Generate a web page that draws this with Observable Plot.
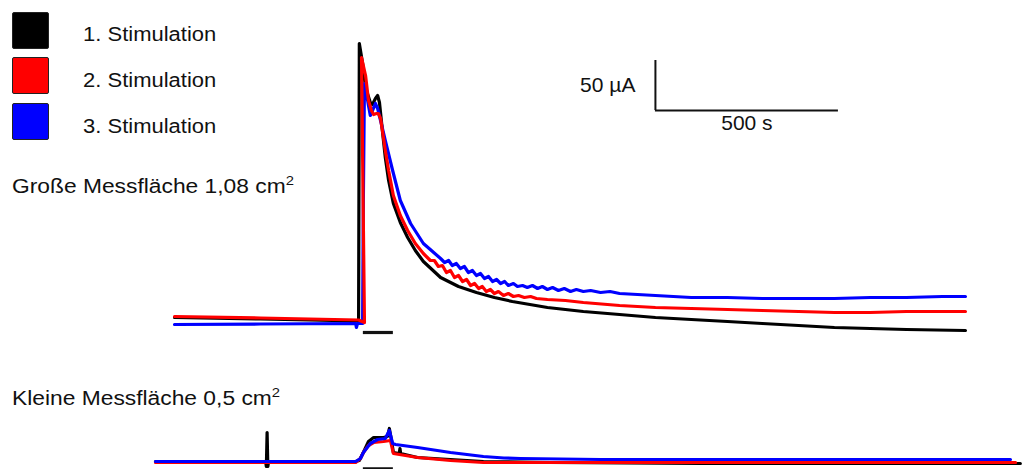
<!DOCTYPE html>
<html>
<head>
<meta charset="utf-8">
<script src="https://cdn.jsdelivr.net/npm/d3@7"></script>
<script src="https://cdn.jsdelivr.net/npm/@observablehq/plot@0.6"></script>
<style>
  html, body { margin: 0; padding: 0; background: #fff; }
  #wrap { position: relative; width: 1022px; height: 469px; overflow: hidden; font-family: "Liberation Sans", Arial, sans-serif; color: #111; }
  .abs { position: absolute; }
  .lbl { font-size: 20px; line-height: 20px; white-space: nowrap; transform: scaleX(1.1); transform-origin: left center; }
  .plbl { transform: scaleX(1.14); }
  .sw { position: absolute; width: 35px; height: 35px; border: 1.5px solid #222; border-radius: 2px; }
  sup { font-size: 13px; line-height: 0; vertical-align: 8px; }
</style>
</head>
<body>
<div id="wrap"></div>
<script>
// ---- Legend ----
const seriesNames = ["1. Stimulation", "2. Stimulation", "3. Stimulation"];
const seriesColors = ["#000000", "#ff0000", "#0000ff"];

// ---- Panel labels ----
const panelLabels = ["Große Messfläche 1,08 cm", "Kleine Messfläche 0,5 cm"];
const panelSup = "2";

// ---- Large electrode (time s, current µA) ----
const bigBlack = [
  [0,5],[235,3.5],[497,1.5],[503,1],[505,279],[514,259],[522,235],[535,220],[541,218],[549,224],[555,227],[560,220],
  [568,192],[576,165],[585,142],[598,119],[617,100],[637,85],[658,72],[680,61],[727,45],[776,36],[825,30],[874,25],
  [923,21],[1019,15],[1117,11],[1216,8],[1314,5],[1412,3],[1511,1],[1606,-1],[1705,-3],[1803,-5],[1901,-6],[2000,-7],[2161,-8]
];
const bigRed = [
  [0,6],[235,4.5],[503,2.5],[519,0],[511,265],[522,247],[530,222],[538,212],[544,208],[552,209],[557,209],[563,204],
  [568,192],[576,172],[585,152],[598,127],[617,107],[637,92],[658,79],[680,69],[699,62],[710,62],[721,56],[732,57],
  [743,50],[754,52],[765,45],[776,47],[787,41],[798,43],[809,37],[820,39],[831,34],[841,36],[852,31],[863,33],[874,29],
  [885,31],[899,27],[912,29],[926,26],[940,27],[956,25],[973,26],[989,24],[1019,23],[1068,22],[1117,20],[1216,17],
  [1314,15],[1412,14],[1511,13],[1606,12],[1705,11],[1803,10],[1901,10],[2000,11],[2161,11]
];
const bigBlue = [
  [0,-2],[235,-1.5],[495,-1],[497,-5],[500,-1],[514,-1],[516,122],[519,239],[522,235],[530,217],[535,207],[541,212],
  [549,219],[555,214],[563,202],[576,182],[596,152],[617,122],[645,99],[680,79],[727,64],[738,60],[749,62],[759,57],
  [770,59],[781,54],[792,56],[803,50],[814,52],[825,47],[836,49],[847,44],[858,46],[869,41],[880,43],[891,39],[902,41],
  [912,37],[926,39],[937,36],[951,37],[964,35],[978,37],[992,34],[1005,36],[1019,33],[1033,35],[1049,32],[1065,34],
  [1082,31],[1098,33],[1117,31],[1137,32],[1164,30],[1190,31],[1216,29],[1314,27],[1412,25],[1511,25],[1606,24],[1705,24],
  [1803,24],[1901,25],[2000,25],[2098,26],[2161,26]
];

// ---- Small electrode (time s, current µA) ----
const smallBlack = [
  [-52,0],[249,0],[251,-5],[253,29],[255,-5],[257,0],[495,0],[505,1],[516,9],[530,20],[544,24],[571,24],[582,25],
  [587,33],[593,21],[598,9],[614,8],[616,13],[618,8],[664,4],[754,2],[844,0],[1027,-1],[1437,-2],[1847,-2],[2311,-2]
];
const smallRed = [
  [-52,-1],[495,-1],[508,3],[516,9],[530,16],[544,19],[571,20],[590,21],[598,8],[664,4],[754,1],[844,-1],[1164,-1],
  [1710,-1],[2298,-1]
];
const smallBlue = [
  [-52,0],[495,0],[508,3],[516,9],[535,18],[555,22],[576,23],[587,31],[596,18],[604,17],[664,14],[754,9],[844,5],
  [900,3.5],[945,3],[1164,2],[1710,2],[2284,2]
];

// ---- Stimulation period and scale bar (s, µA) ----
const stimPeriod = [516, 598];
const stimLevelBig = -10;
const stimLevelSmall = -7;
const scaleBar = { t0: 1314, i0: 212, dt: 500, di: 50, tLabel: "500 s", iLabel: "50 µA" };

const toRows = (arr) => arr.map(([t, I]) => ({ t, I }));
const xScale = { domain: [0, 2200], range: [174, 174 + 2200 * 0.366], axis: null };
const font = "'Liberation Sans', Arial, sans-serif";
const lw = 3.2;

const wrap = document.getElementById("wrap");

const topPlot = Plot.plot({
  width: 1022, height: 350, margin: 0,
  style: { fontFamily: font, background: "transparent", overflow: "visible" },
  x: xScale,
  y: { domain: [0, 300], range: [322, 22], axis: null },
  marks: [
    Plot.line(toRows(bigBlack), { x: "t", y: "I", stroke: seriesColors[0], strokeWidth: lw }),
    Plot.line(toRows(bigBlue), { x: "t", y: "I", stroke: seriesColors[2], strokeWidth: lw }),
    Plot.line(toRows(bigRed), { x: "t", y: "I", stroke: seriesColors[1], strokeWidth: lw }),
    Plot.ruleY([stimLevelBig], { x1: stimPeriod[0], x2: stimPeriod[1], stroke: "#111", strokeWidth: 3.2 }),
    Plot.ruleX([scaleBar.t0], { y1: scaleBar.i0, y2: scaleBar.i0 + scaleBar.di, stroke: "#111", strokeWidth: 2 }),
    Plot.ruleY([scaleBar.i0], { x1: scaleBar.t0, x2: scaleBar.t0 + scaleBar.dt, stroke: "#111", strokeWidth: 2 }),
    Plot.text([scaleBar.iLabel], { x: scaleBar.t0, y: scaleBar.i0 + scaleBar.di / 2, dx: -20, textAnchor: "end", fontSize: 21, fill: "#111" }),
    Plot.text([scaleBar.tLabel], { x: scaleBar.t0 + scaleBar.dt / 2, y: scaleBar.i0, dy: 13, textAnchor: "middle", fontSize: 21, fill: "#111" })
  ]
});
topPlot.style.position = "absolute"; topPlot.style.left = "0px"; topPlot.style.top = "0px";
wrap.appendChild(topPlot);

const bottomPlot = Plot.plot({
  width: 1022, height: 119, margin: 0,
  style: { fontFamily: font, background: "transparent", overflow: "visible" },
  x: xScale,
  y: { domain: [0, 50], range: [111, 61], axis: null },
  marks: [
    Plot.line(toRows(smallBlack), { x: "t", y: "I", stroke: seriesColors[0], strokeWidth: lw }),
    Plot.line(toRows(smallRed), { x: "t", y: "I", stroke: seriesColors[1], strokeWidth: lw }),
    Plot.line(toRows(smallBlue), { x: "t", y: "I", stroke: seriesColors[2], strokeWidth: lw }),
    Plot.ruleY([stimLevelSmall], { x1: stimPeriod[0], x2: stimPeriod[1], stroke: "#111", strokeWidth: 2.5 })
  ]
});
bottomPlot.style.position = "absolute"; bottomPlot.style.left = "0px"; bottomPlot.style.top = "350px";
wrap.appendChild(bottomPlot);

// Legend
const swTops = [12, 57, 103];
const txtTops = [24, 70, 116];
seriesNames.forEach((name, i) => {
  const sw = document.createElement("div");
  sw.className = "sw";
  sw.style.left = "12px"; sw.style.top = swTops[i] + "px";
  sw.style.background = seriesColors[i];
  wrap.appendChild(sw);
  const tx = document.createElement("div");
  tx.className = "abs lbl";
  tx.style.left = "83px"; tx.style.top = txtTops[i] + "px";
  tx.textContent = name;
  wrap.appendChild(tx);
});

// Panel labels
[[panelLabels[0], 176], [panelLabels[1], 388]].forEach(([txt, y]) => {
  const d = document.createElement("div");
  d.className = "abs lbl plbl";
  d.style.left = "12px"; d.style.top = y + "px";
  d.append(txt);
  const s = document.createElement("sup");
  s.textContent = panelSup;
  d.appendChild(s);
  wrap.appendChild(d);
});
</script>
</body>
</html>
